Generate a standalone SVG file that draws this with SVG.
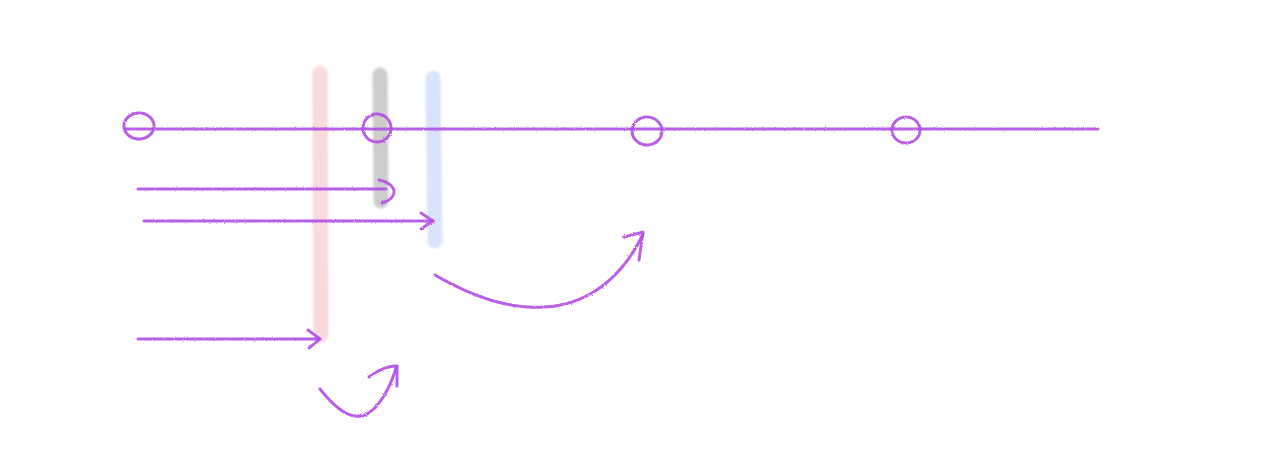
<svg xmlns="http://www.w3.org/2000/svg" width="1286" height="465" viewBox="0 0 1286 465">
<style>
.bar{fill:none;stroke-linecap:round;stroke-width:15}
.p{fill:none;stroke:#b34ee6;stroke-width:3;stroke-linecap:round;stroke-linejoin:round;stroke-dasharray:5 1 3 1;opacity:0.9}
</style>
<defs>
<filter id="rough" x="-5%" y="-20%" width="110%" height="140%">
<feTurbulence type="fractalNoise" baseFrequency="0.9" numOctaves="1" seed="3"/>
<feDisplacementMap in="SourceGraphic" scale="2.5"/>
</filter>
<filter id="soft" filterUnits="userSpaceOnUse" x="290" y="50" width="180" height="310">
<feGaussianBlur stdDeviation="0.8"/>
</filter>
</defs>
<rect width="1286" height="465" fill="#ffffff"/>
<g id="bar-pink" filter="url(#soft)"><path class="bar" d="M320 73 L321 335" stroke="#f9dadd"/></g>
<g id="bar-gray" filter="url(#soft)"><path class="bar" d="M380 75 L381 201" stroke="#cdcdcd"/></g>
<g id="bar-blue" filter="url(#soft)"><path class="bar" d="M433 78 L435 241" stroke="#d8e5fd"/></g>
<g id="connectors" filter="url(#rough)">
<path class="p" d="M124 129 L1098 129"/>
<ellipse class="p" cx="139" cy="126" rx="15" ry="13"/>
<ellipse class="p" cx="377" cy="128" rx="14" ry="14"/>
<ellipse class="p" cx="647" cy="131" rx="15" ry="14"/>
<ellipse class="p" cx="906" cy="130" rx="14" ry="13"/>
<path class="p" d="M138 189 L386 189"/>
<path class="p" d="M379 180 C398 184 399 198 382 203"/>
<path class="p" d="M144 221 L433 221"/>
<path class="p" d="M421 213 L433 221 L421 229"/>
<path class="p" d="M138 339 L319 339"/>
<path class="p" d="M308 330 L320 339 L309 348"/>
<path class="p" d="M320 389 C335 408 352 422 367 414 C380 406 390 388 396 368"/>
<path class="p" d="M369 377 C378 370 388 366 397 366 L397 386"/>
<path class="p" d="M435 275 C470 295 510 312 555 306 C595 300 625 272 643 234"/>
<path class="p" d="M624 237 L643 232 L639 260"/>
</g>
</svg>
